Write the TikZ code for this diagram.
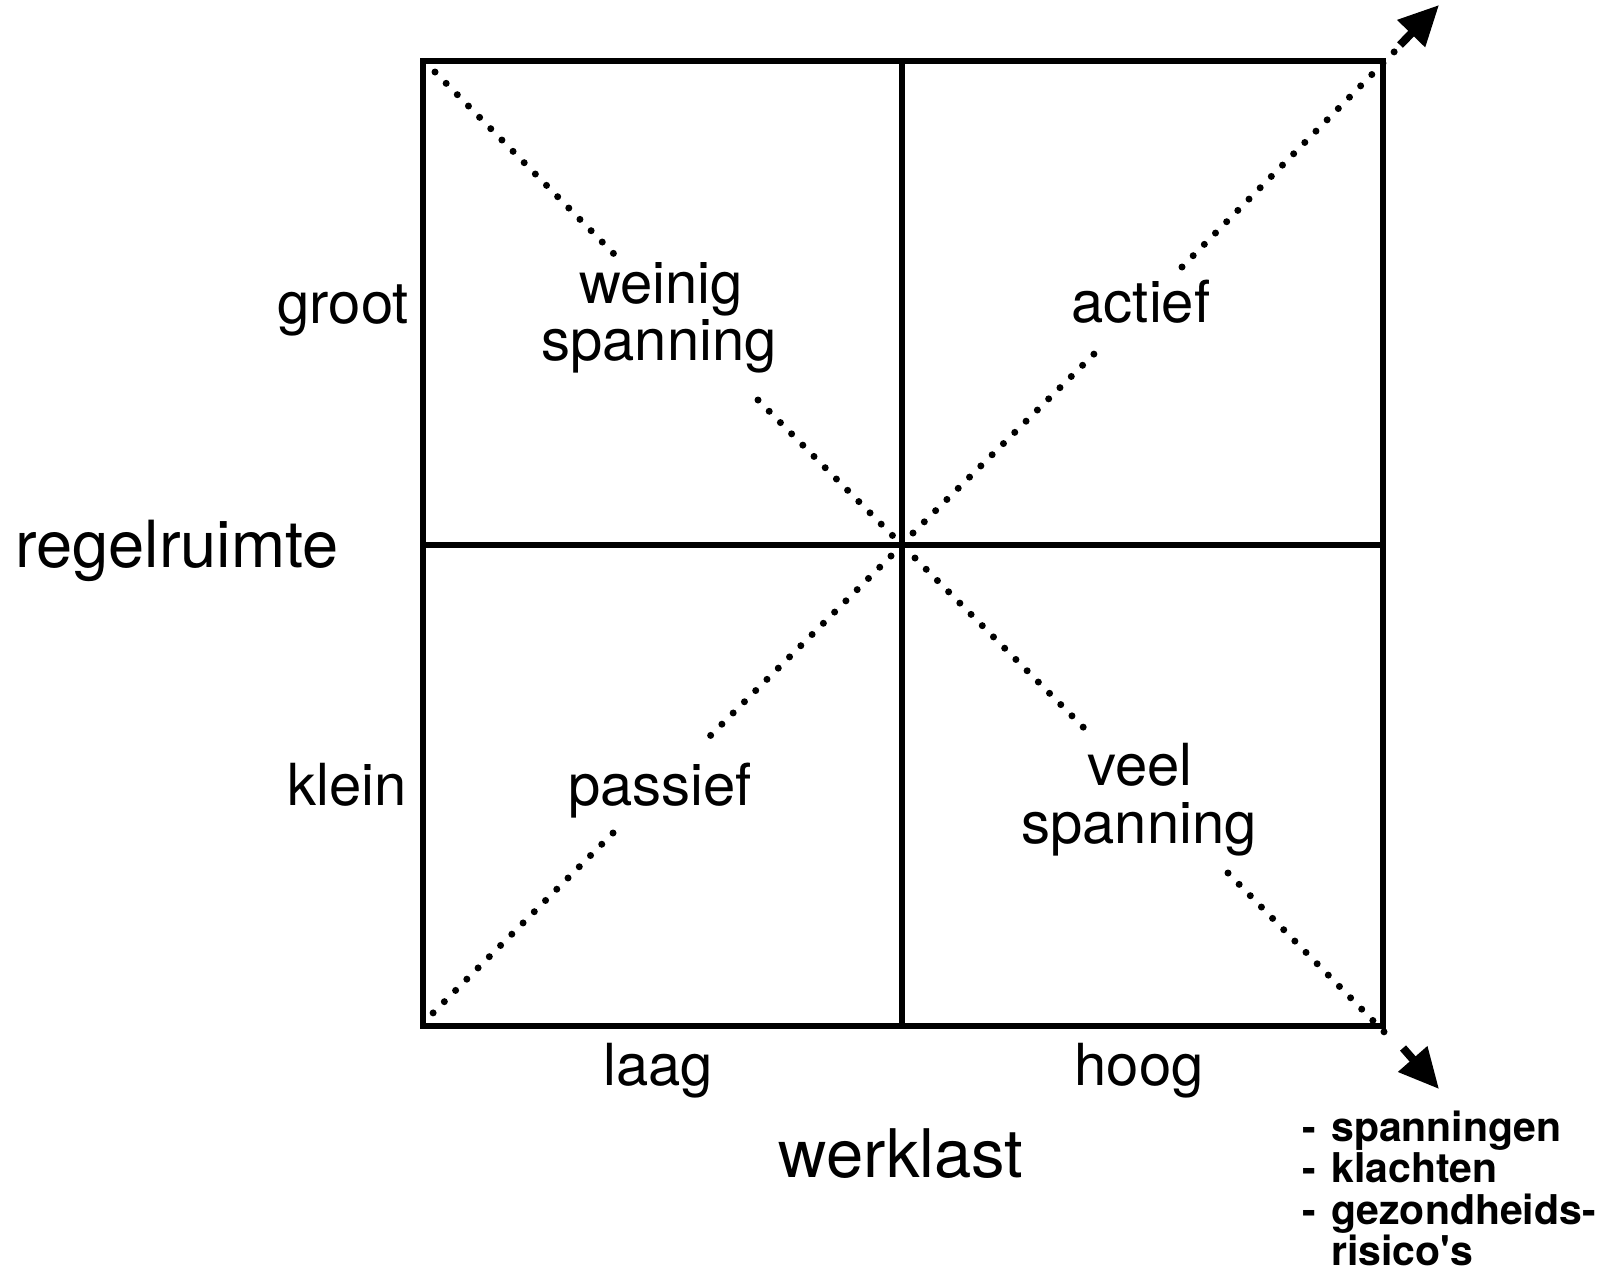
\documentclass[tikz,border=0pt]{standalone}
\usepackage{fontspec}
\setmainfont{TeX Gyre Heros}
\usetikzlibrary{arrows.meta}
\begin{document}
\begin{tikzpicture}[x=1pt,y=-1pt,
  frame/.style={line width=6.3pt},
  dots/.style={line width=7pt, line cap=round, dash pattern=on 0pt off 15.9pt},
  bigarrow/.style={line width=8pt, -{Triangle[length=40pt,width=37pt]}},
  lab/.style={font=\fontsize{58}{60}\selectfont, anchor=base, inner sep=0pt},
  axislab/.style={font=\fontsize{65}{67}\selectfont, anchor=base, inner sep=0pt},
  listlab/.style={font=\bfseries\fontsize{41}{40}\selectfont, anchor=base west, inner sep=0pt}]
\useasboundingbox (0,0) rectangle (1605,1272);
% frame
\coordinate (tl) at (423,61);
\coordinate (br) at (1383,1026);
\coordinate (tm) at (902,61);
\coordinate (bm) at (902,1026);
\coordinate (lm) at (423,545);
\coordinate (rm) at (1383,545);
\draw[frame] (tl) rectangle (br);
\draw[frame] (tm) -- (bm);
\draw[frame] (lm) -- (rm);
% dotted diagonals
\coordinate (a1) at (435,72);   \coordinate (a2) at (615,255);
\coordinate (a3) at (758,400);  \coordinate (a4) at (893,536);
\coordinate (b1) at (915,558);  \coordinate (b2) at (1093,737);
\coordinate (b3) at (1228,873); \coordinate (b4) at (1394,1042);
\coordinate (c1) at (913,533);  \coordinate (c2) at (1095,353);
\coordinate (c3) at (1182,267); \coordinate (c4) at (1396,50);
\coordinate (d1) at (891,556);  \coordinate (d2) at (709,737);
\coordinate (d3) at (613,833);  \coordinate (d4) at (428,1018);
\draw[dots] (a1) -- (a2);
\draw[dots] (a3) -- (a4);
\draw[dots] (b1) -- (b2);
\draw[dots] (b3) -- (b4);
\draw[dots] (c1) -- (c2);
\draw[dots] (c3) -- (c4);
\draw[dots] (d1) -- (d2);
\draw[dots] (d3) -- (d4);
% arrows
\coordinate (e1) at (1400,45);   \coordinate (e2) at (1439,5);
\coordinate (f1) at (1403,1048); \coordinate (f2) at (1439,1089);
\draw[bigarrow] (e1) -- (e2);
\draw[bigarrow] (f1) -- (f2);
% labels
\node[lab, anchor=base east] (groot) at (409,323) {groot};
\node[lab] (weinig) at (661,303) {weinig};
\node[lab] (spanning1) at (659,360) {spanning};
\node[lab] (actief) at (1141,322) {actief};
\node[axislab, anchor=base west] (regel) at (15,567) {regelruimte};
\node[lab, anchor=base east] (klein) at (407,805) {klein};
\node[lab] (passief) at (660,805) {passief};
\node[lab] (veel) at (1140,785) {veel};
\node[lab] (spanning2) at (1139,843) {spanning};
\node[lab] (laag) at (658,1085) {laag};
\node[lab] (hoog) at (1139,1085) {hoog};
\node[axislab, font=\fontsize{67}{69}\selectfont] (werklast) at (901,1177) {werklast};
% list
\node[listlab] (h1) at (1302,1141) {-};
\node[listlab] (h2) at (1302,1182.5) {-};
\node[listlab] (h3) at (1302,1224) {-};
\node[listlab] (w1) at (1331,1141) {spanningen};
\node[listlab] (w2) at (1331,1182.5) {klachten};
\node[listlab] (w3) at (1331,1224) {gezondheids-};
\node[listlab] (w4) at (1331,1265.5) {risico\textquotesingle s};
\end{tikzpicture}
\end{document}
